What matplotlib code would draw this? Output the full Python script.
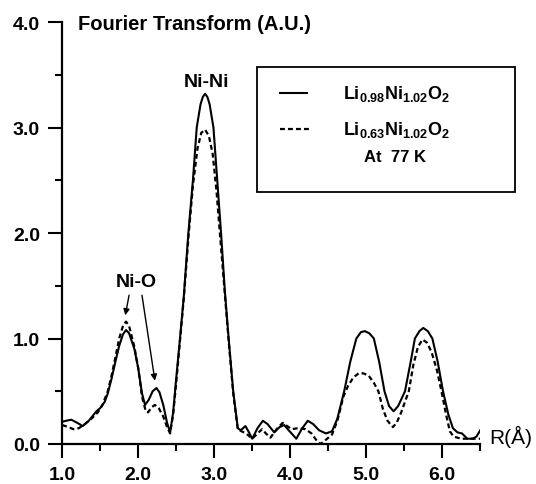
import matplotlib
matplotlib.use("Agg")
import matplotlib.pyplot as plt
from matplotlib.lines import Line2D
from matplotlib.patches import Rectangle
from matplotlib.ticker import MultipleLocator

plt.rcParams['font.family'] = ['Liberation Sans', 'DejaVu Sans']
plt.rcParams['mathtext.fontset'] = 'custom'
plt.rcParams['mathtext.bf'] = 'Liberation Sans:bold'
plt.rcParams['mathtext.rm'] = 'Liberation Sans:bold'

# Solid: Li0.98Ni1.02O2
r_solid = [1.00, 1.05, 1.12, 1.20, 1.27, 1.35, 1.45, 1.50, 1.56, 1.60, 1.65, 1.70, 1.75,
           1.80, 1.84, 1.88, 1.95, 2.00, 2.05, 2.09, 2.14, 2.19, 2.24, 2.28, 2.33, 2.38,
           2.42, 2.46, 2.50, 2.55, 2.60, 2.66, 2.72, 2.77, 2.82, 2.85, 2.88, 2.91, 2.94,
           2.99, 3.04, 3.09, 3.14, 3.19, 3.25, 3.31, 3.35, 3.41, 3.45, 3.50, 3.57, 3.64,
           3.70, 3.79, 3.86, 3.92, 3.98, 4.08, 4.15, 4.23, 4.30, 4.38, 4.47, 4.55, 4.62,
           4.71, 4.79, 4.87, 4.93, 4.98, 5.04, 5.10, 5.17, 5.24, 5.30, 5.36, 5.42, 5.51,
           5.59, 5.64, 5.70, 5.75, 5.81, 5.87, 5.94, 6.01, 6.08, 6.14, 6.20, 6.26, 6.33,
           6.40, 6.45, 6.50]
ft_solid = [0.21, 0.22, 0.23, 0.20, 0.17, 0.22, 0.31, 0.34, 0.40, 0.48, 0.62, 0.78, 0.93,
            1.04, 1.08, 1.05, 0.90, 0.72, 0.48, 0.37, 0.42, 0.50, 0.53, 0.49, 0.37, 0.20,
            0.11, 0.30, 0.62, 1.00, 1.40, 2.00, 2.50, 3.00, 3.22, 3.29, 3.32, 3.29, 3.22,
            3.00, 2.50, 2.00, 1.45, 1.00, 0.50, 0.15, 0.13, 0.17, 0.12, 0.05, 0.15, 0.22,
            0.19, 0.11, 0.16, 0.18, 0.13, 0.05, 0.14, 0.22, 0.19, 0.13, 0.10, 0.12, 0.24,
            0.50, 0.78, 1.00, 1.06, 1.07, 1.05, 1.00, 0.78, 0.50, 0.36, 0.31, 0.36, 0.50,
            0.80, 1.00, 1.07, 1.10, 1.07, 1.00, 0.78, 0.50, 0.28, 0.15, 0.11, 0.10, 0.05,
            0.05, 0.07, 0.13]

# Dashed: Li0.63Ni1.02O2
r_dash = [1.00, 1.08, 1.15, 1.22, 1.30, 1.40, 1.47, 1.53, 1.60, 1.65, 1.70, 1.75, 1.80,
          1.84, 1.88, 1.95, 2.00, 2.05, 2.10, 2.13, 2.18, 2.22, 2.27, 2.33, 2.38, 2.42,
          2.46, 2.50, 2.55, 2.60, 2.66, 2.72, 2.78, 2.83, 2.88, 2.93, 2.98, 3.03, 3.08,
          3.14, 3.19, 3.25, 3.31, 3.36, 3.42, 3.50, 3.57, 3.63, 3.68, 3.74, 3.82, 3.90,
          3.96, 4.02, 4.10, 4.20, 4.28, 4.34, 4.40, 4.47, 4.55, 4.62, 4.70, 4.76, 4.83,
          4.90, 4.96, 5.03, 5.10, 5.16, 5.22, 5.28, 5.35, 5.40, 5.46, 5.56, 5.62, 5.68,
          5.74, 5.80, 5.86, 5.93, 5.99, 6.05, 6.10, 6.15, 6.25, 6.35, 6.50]
ft_dash = [0.18, 0.16, 0.14, 0.15, 0.19, 0.25, 0.30, 0.37, 0.50, 0.65, 0.82, 1.00, 1.12,
           1.16, 1.12, 0.92, 0.72, 0.45, 0.31, 0.30, 0.35, 0.37, 0.34, 0.26, 0.16, 0.10,
           0.28, 0.58, 0.98, 1.38, 1.95, 2.45, 2.80, 2.95, 2.98, 2.92, 2.75, 2.40, 1.95,
           1.42, 0.98, 0.48, 0.14, 0.12, 0.10, 0.05, 0.10, 0.14, 0.10, 0.06, 0.14, 0.20,
           0.17, 0.14, 0.15, 0.14, 0.10, 0.04, 0.00, 0.04, 0.09, 0.22, 0.45, 0.55, 0.63,
           0.67, 0.67, 0.65, 0.58, 0.50, 0.33, 0.22, 0.16, 0.20, 0.30, 0.50, 0.75, 0.92,
           0.99, 0.96, 0.87, 0.70, 0.50, 0.28, 0.12, 0.07, 0.05, 0.05, 0.05]

x_ticks = [1.0, 2.0, 3.0, 4.0, 5.0, 6.0]
y_ticks = [0.0, 1.0, 2.0, 3.0, 4.0]
x_ticklabels = ["1.0", "2.0", "3.0", "4.0", "5.0", "6.0"]
y_ticklabels = ["0.0", "1.0", "2.0", "3.0", "4.0"]

fig = plt.figure(figsize=(5.36, 4.85), dpi=100)
ax = fig.add_axes([0.116, 0.0825, 0.780, 0.870])

ax.plot(r_solid, ft_solid, color='black', lw=1.5, solid_joinstyle='round')
ax.plot(r_dash, ft_dash, color='black', lw=1.6, linestyle=(0, (2.2, 1.4)))

ax.set_xlim(1.0, 6.5)
ax.set_ylim(0.0, 4.0)
for s in ['top', 'right']:
    ax.spines[s].set_visible(False)
for s in ['left', 'bottom']:
    ax.spines[s].set_linewidth(1.6)

ax.xaxis.set_minor_locator(MultipleLocator(0.5))
ax.yaxis.set_minor_locator(MultipleLocator(0.5))
ax.tick_params(axis='both', which='major', direction='out', length=10, width=1.5)
ax.tick_params(axis='x', which='major', pad=6)
ax.tick_params(axis='y', which='major', pad=6)
ax.tick_params(axis='both', which='minor', direction='out', length=5, width=1.5)
ax.set_xticks(x_ticks)
ax.set_xticklabels(x_ticklabels, fontsize=14, fontweight='bold')
ax.set_yticks(y_ticks)
ax.set_yticklabels(y_ticklabels, fontsize=14, fontweight='bold')

# Title and labels
fig.text(78 / 536, 1 - 25 / 485, "Fourier Transform (A.U.)", fontsize=14.5,
         fontweight='bold', ha='left', va='center')
fig.text(511 / 536, 1 - 437 / 485, "R(Å)", fontsize=15, ha='center', va='center')

ax.text(2.9, 3.44, "Ni-Ni", fontsize=14, fontweight='bold', ha='center', va='center')
ax.text(1.97, 1.54, "Ni-O", fontsize=14, fontweight='bold', ha='center', va='center')
arrow = dict(arrowstyle='-|>', lw=1.0, color='black', mutation_scale=9,
             shrinkA=0, shrinkB=0)
ax.annotate("", xy=(1.83, 1.22), xytext=(1.88, 1.41), arrowprops=arrow)
ax.annotate("", xy=(2.22, 0.60), xytext=(2.05, 1.41), arrowprops=arrow)

# Legend box
fig.patches.append(Rectangle((257 / 536, 1 - 193 / 485), (515 - 257) / 536,
                             (193 - 68) / 485, transform=fig.transFigure,
                             fill=False, edgecolor='black', lw=1.3))
fig.lines.append(Line2D([280 / 536, 307 / 536], [1 - 94 / 485, 1 - 94 / 485],
                        transform=fig.transFigure, color='black', lw=1.5))
fig.lines.append(Line2D([280 / 536, 310 / 536], [1 - 130 / 485, 1 - 130 / 485],
                        transform=fig.transFigure, color='black', lw=1.6,
                        linestyle=(0, (2.2, 1.4))))
fig.text(343 / 536, 1 - 94 / 485, r"$\mathbf{Li_{0.98}Ni_{1.02}O_{2}}$",
         fontsize=13, ha='left', va='center')
fig.text(343 / 536, 1 - 130 / 485, r"$\mathbf{Li_{0.63}Ni_{1.02}O_{2}}$",
         fontsize=13, ha='left', va='center')
fig.text(395 / 536, 1 - 158 / 485, "At  77 K", fontsize=12, fontweight='bold',
         ha='center', va='center')

fig.savefig("out.png", dpi=100)
